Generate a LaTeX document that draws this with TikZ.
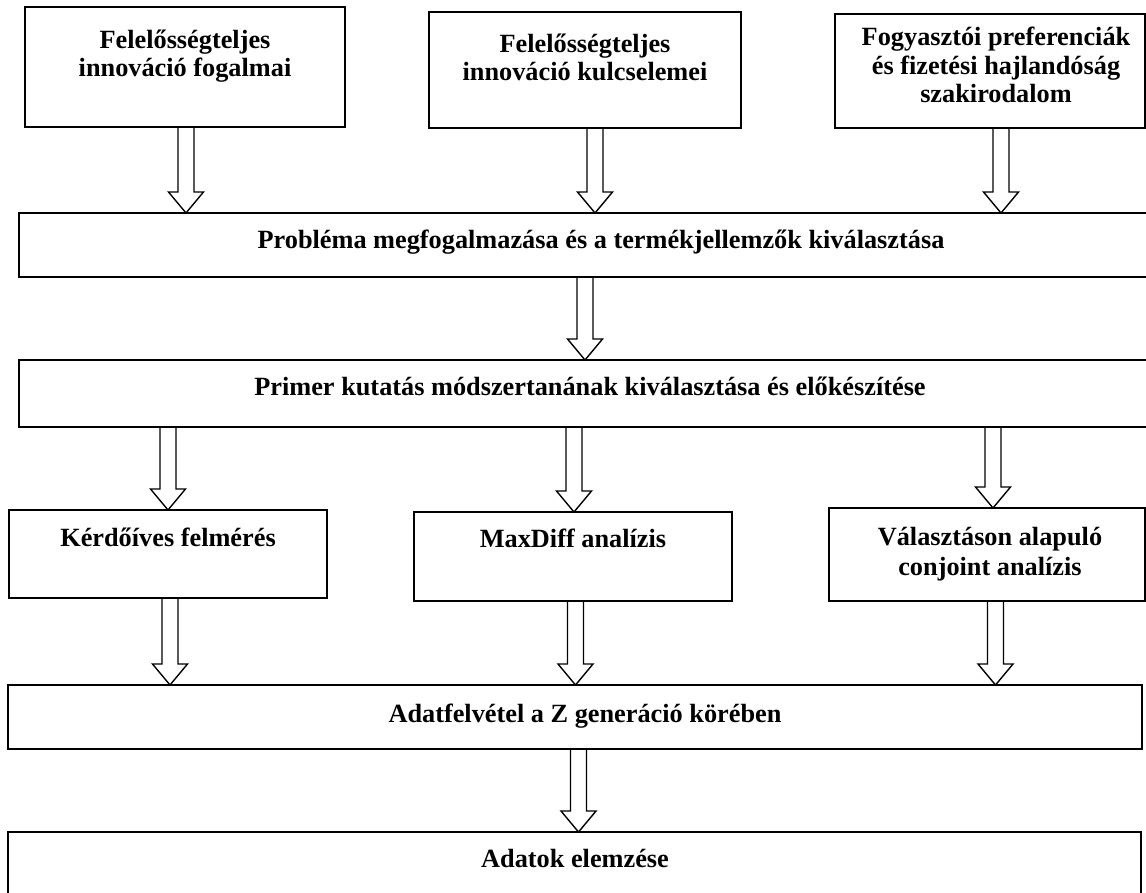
\documentclass[tikz,border=0pt]{standalone}
\usepackage{fontspec}
\setmainfont{Liberation Serif}
\usetikzlibrary{calc}
\begin{document}
\begin{tikzpicture}[x=1pt,y=-1pt,
  box/.style={draw, line width=1.8pt, rectangle, inner sep=0pt, outer sep=0pt},
  lbl/.style={font=\fontsize{26.3}{27.6}\selectfont\bfseries, align=center, anchor=base, inner sep=0pt},
  hollow/.style={line width=1.4pt, line join=miter, to path={
    let \p1=(\tikztostart), \p2=(\tikztotarget) in
    (\x1-8pt,\y1) -- (\x1+8pt,\y1) -- (\x1+8pt,\y2+21pt) -- (\x1+17.5pt,\y2+21pt)
    -- (\x1,\y2) -- (\x1-17.5pt,\y2+21pt) -- (\x1-8pt,\y2+21pt) -- cycle}}
]
\useasboundingbox[fill=white] (0,0) rectangle (1146,893);

% boxes
\node[box, minimum width=320, minimum height=120] (b1) at (185,67) {};
\node[box, minimum width=312, minimum height=116] (b2) at (585,70) {};
\node[box, minimum width=310, minimum height=114] (b3) at (990,71) {};
\node[box, minimum width=1164, minimum height=64] (w1) at (601,245) {};
\node[box, minimum width=1164, minimum height=67] (w2) at (601,393.5) {};
\node[box, minimum width=318, minimum height=88] (ba) at (168,554) {};
\node[box, minimum width=318, minimum height=89] (bb) at (573,556.5) {};
\node[box, minimum width=316, minimum height=93] (bc) at (987,554.5) {};
\node[box, minimum width=1134, minimum height=64] (w3) at (575,717) {};
\node[box, minimum width=1133, minimum height=73] (w4) at (574.5,868.5) {};

% texts (base anchor = baseline of the last line)
\node[lbl] (tb1) at (185,77) {Felelősségteljes\\[1pt]innováció fogalmai};
\node[lbl] (tb2) at (585,81) {Felelősségteljes\\[1pt]innováció kulcselemei};
\node[lbl] (tb3) at (996,103) {Fogyasztói preferenciák\\[1pt]és fizetési hajlandóság\\[1pt]szakirodalom};
\node[lbl] (tw1) at (601,249) {Probléma megfogalmazása és a termékjellemzők kiválasztása};
\node[lbl] (tw2) at (590,395) {Primer kutatás módszertanának kiválasztása és előkészítése};
\node[lbl] (tba) at (168,546) {Kérdőíves felmérés};
\node[lbl] (tbb) at (573,547) {MaxDiff analízis};
\node[lbl] (tbc) at (990,575) {Választáson alapuló\\[2pt]conjoint analízis};
\node[lbl] (tw3) at (585,722) {Adatfelvétel a Z generáció körében};
\node[lbl] (tw4) at (575,867) {Adatok elemzése};

% arrow axes
\coordinate (ax1) at (186,0);
\coordinate (ax2) at (595,0);
\coordinate (ax3) at (1001,0);
\coordinate (ax4) at (585,0);
\coordinate (ax5) at (168,0);
\coordinate (ax6) at (574,0);
\coordinate (ax7) at (993,0);
\coordinate (ax8) at (170,0);
\coordinate (ax9) at (575.5,0);
\coordinate (ax10) at (995.5,0);
\coordinate (ax11) at (578.5,0);

% arrows
\draw[hollow] (b1.south -| ax1) to (w1.north -| ax1);
\draw[hollow] (b2.south -| ax2) to (w1.north -| ax2);
\draw[hollow] (b3.south -| ax3) to (w1.north -| ax3);
\draw[hollow] (w1.south -| ax4) to (w2.north -| ax4);
\draw[hollow] (w2.south -| ax5) to (ba.north -| ax5);
\draw[hollow] (w2.south -| ax6) to (bb.north -| ax6);
\draw[hollow] (w2.south -| ax7) to (bc.north -| ax7);
\draw[hollow] (ba.south -| ax8) to (w3.north -| ax8);
\draw[hollow] (bb.south -| ax9) to (w3.north -| ax9);
\draw[hollow] (bc.south -| ax10) to (w3.north -| ax10);
\draw[hollow] (w3.south -| ax11) to (w4.north -| ax11);
\end{tikzpicture}
\end{document}
